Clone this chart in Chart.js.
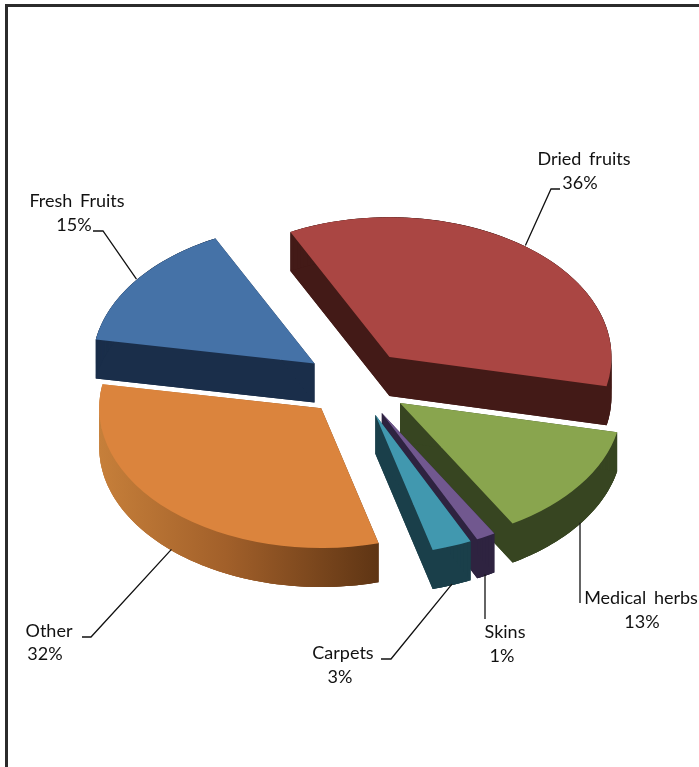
<!DOCTYPE html>
<html>
<head>
<meta charset="utf-8">
<title>Exports</title>
<script src="https://cdn.jsdelivr.net/npm/chart.js@4/dist/chart.umd.js"></script>
<style>
html, body { margin: 0; padding: 0; background: #fff; }
canvas { display: block; }
</style>
</head>
<body>
<canvas id="pie" width="699" height="767"></canvas>
<script>
// data
const categories = ['Dried fruits', 'Medical herbs', 'Skins', 'Carpets', 'Other', 'Fresh Fruits'];
const shares = [35.7, 13.2, 1.4, 2.9, 31.9, 14.9];

// slice colours
const topColors = ['#AA4643', '#89A54E', '#71588F', '#4198AF', '#DB843D', '#4572A7'];
const wallColors = ['#431A17', '#374521', '#2E2340', '#1A3F4A', null, '#1A2E4A'];

// fake 3d settings
const squash = 0.63;
const depth = 39;
const explode = 53;
const drawOrder = [5, 0, 1, 2, 3, 4];

// label placement: [name x, name y, percent x, percent y]
const labelSpots = [
  [584, 165, 580, 189],
  [641, 604, 642, 628],
  [505, 638, 502, 662],
  [343, 659, 340, 683],
  [49, 637, 45, 660],
  [77, 207, 74, 231]
];
// leader line points after the anchor on the slice edge
const leaderBends = [
  [[551, 189], [560, 189]],
  [[580, 603]],
  [[485, 619]],
  [[391, 659], [381, 659]],
  [[91, 637], [82, 637]],
  [[103, 231], [93, 231]]
];

function midAngle(arc) {
  return (arc.startAngle + arc.endAngle) / 2;
}

function applyView(ctx, arc) {
  const mid = midAngle(arc);
  ctx.translate(arc.x, arc.y);
  ctx.scale(1, squash);
  ctx.translate(Math.cos(mid) * explode, Math.sin(mid) * explode);
  ctx.translate(-arc.x, -arc.y);
}

// screen position of a point of the exploded, squashed slice
function slicePoint(arc, angle, radius, down) {
  const mid = midAngle(arc);
  return [
    arc.x + Math.cos(mid) * explode + Math.cos(angle) * radius,
    arc.y + (Math.sin(mid) * explode + Math.sin(angle) * radius) * squash + down
  ];
}

function fillPoly(ctx, pts) {
  ctx.beginPath();
  pts.forEach(function (p, n) {
    if (n === 0) ctx.moveTo(p[0], p[1]);
    else ctx.lineTo(p[0], p[1]);
  });
  ctx.closePath();
  ctx.fill();
}

function drawWall(ctx, arc) {
  const R = arc.outerRadius;
  const a = arc.startAngle;
  const b = arc.endAngle;
  const apexTop = slicePoint(arc, a, 0, 0);
  const apexLow = slicePoint(arc, a, 0, depth);
  // the two cut faces
  fillPoly(ctx, [apexTop, slicePoint(arc, a, R, 0), slicePoint(arc, a, R, depth), apexLow]);
  fillPoly(ctx, [apexTop, slicePoint(arc, b, R, 0), slicePoint(arc, b, R, depth), apexLow]);
  // the round face, piece by piece so it does not fold over at the far left and right
  const top = [];
  const low = [];
  const steps = Math.ceil((b - a) * 60);
  for (let n = 0; n <= steps; n++) {
    const t = a + (b - a) * n / steps;
    top.push(slicePoint(arc, t, R, 0));
    low.push(slicePoint(arc, t, R, depth));
  }
  for (let n = 0; n < steps; n++) {
    const m = Math.min(n + 2, steps);
    fillPoly(ctx, [top[n], top[m], low[m], low[n]]);
  }
  fillPoly(ctx, [apexLow].concat(low));
}

const pie3d = {
  id: 'pie3d',
  beforeDraw(chart) {
    const ctx = chart.ctx;
    ctx.save();
    ctx.fillStyle = '#2B2B2B';
    ctx.fillRect(5, 4, 694, 3);
    ctx.fillRect(5, 4, 3, 763);
    ctx.restore();
  },
  beforeDatasetDraw(chart) {
    const ctx = chart.ctx;
    const arcs = chart.getDatasetMeta(0).data;
    drawOrder.forEach(function (i) {
      const arc = arcs[i];
      ctx.save();
      if (wallColors[i]) {
        ctx.fillStyle = wallColors[i];
      } else {
        // the orange slice has a shaded wall
        const grad = ctx.createLinearGradient(100, 0, 378, 0);
        grad.addColorStop(0, '#C67F3A');
        grad.addColorStop(0.45, '#A2602A');
        grad.addColorStop(1, '#5F3514');
        ctx.fillStyle = grad;
      }
      drawWall(ctx, arc);
      applyView(ctx, arc);
      arc.draw(ctx);
      ctx.restore();
    });
    return false;
  },
  afterDatasetsDraw(chart) {
    const ctx = chart.ctx;
    const arcs = chart.getDatasetMeta(0).data;
    ctx.save();
    ctx.fillStyle = '#111';
    ctx.strokeStyle = '#111';
    ctx.lineWidth = 1.3;
    ctx.font = '18px Lato';
    ctx.textAlign = 'center';
    ctx.wordSpacing = '3px';
    arcs.forEach(function (arc, i) {
      const mid = midAngle(arc);
      // front slices: line starts at the wall bottom
      const rim = slicePoint(arc, mid, arc.outerRadius, Math.sin(mid) > 0 ? depth : 0);
      // straight drop lines keep their own x
      const ax = leaderBends[i].length === 1 ? leaderBends[i][0][0] : rim[0];
      ctx.beginPath();
      ctx.moveTo(ax, rim[1] - 1);
      leaderBends[i].forEach(function (p) { ctx.lineTo(p[0], p[1]); });
      ctx.stroke();
      const spot = labelSpots[i];
      ctx.fillText(categories[i], spot[0], spot[1]);
      ctx.fillText(Math.round(shares[i]) + '%', spot[2], spot[3]);
    });
    ctx.restore();
  }
};

new Chart(document.getElementById('pie'), {
  type: 'pie',
  data: {
    labels: categories,
    datasets: [{
      data: shares,
      backgroundColor: topColors,
      borderWidth: 0,
      radius: 222
    }]
  },
  options: {
    responsive: false,
    animation: false,
    rotation: -26.5,
    layout: { padding: { left: 15 } },
    plugins: { legend: { display: false }, tooltip: { enabled: false } }
  },
  plugins: [pie3d]
});
</script>
</body>
</html>
